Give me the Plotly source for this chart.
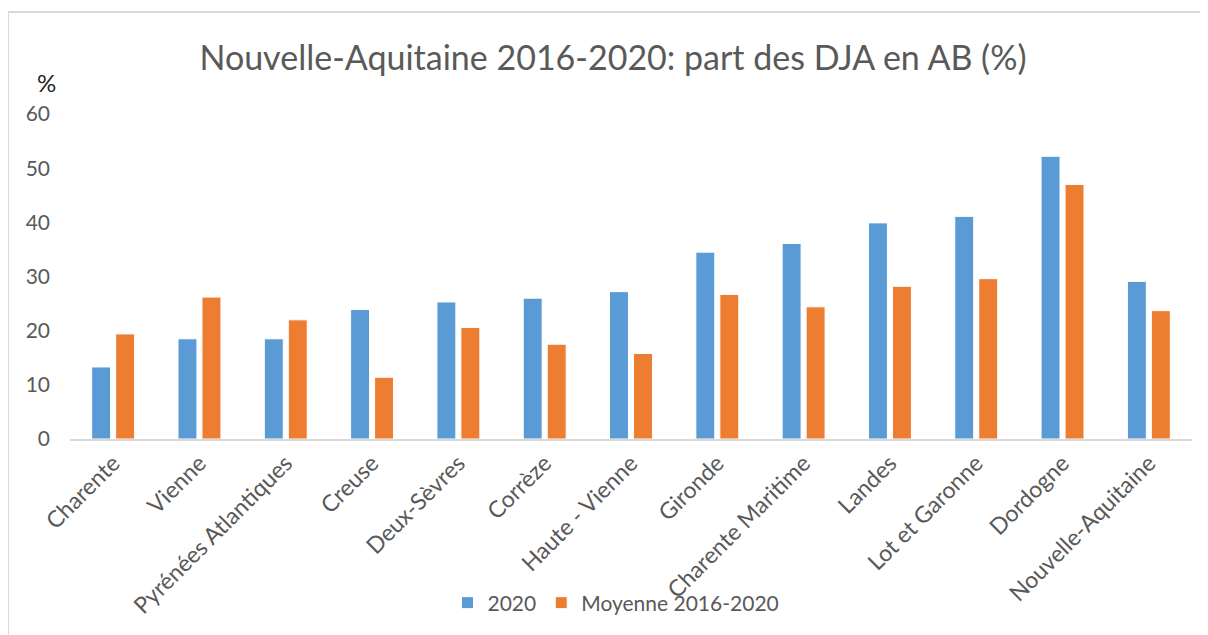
import plotly.graph_objects as go

categories = ["Charente", "Vienne", "Pyrénées Atlantiques", "Creuse", "Deux-Sèvres",
              "Corrèze", "Haute - Vienne", "Gironde", "Charente Maritime", "Landes",
              "Lot et Garonne", "Dordogne", "Nouvelle-Aquitaine"]
values_2020 = [13.3, 18.5, 18.5, 23.9, 25.3, 26.0, 27.2, 34.5, 36.1, 39.9, 41.1, 52.2, 29.1]
values_moy = [19.4, 26.2, 22.0, 11.4, 20.6, 17.5, 15.8, 26.7, 24.4, 28.2, 29.6, 47.0, 23.7]
y_ticks = [0, 10, 20, 30, 40, 50, 60]

FONT = "Lato"
GREY = "#595959"
OFF = 8  # page body margin offset
W, H = 1208, 635
L, R, T, B = 70 - OFF, 16 + OFF, 114 - OFF, 196 + OFF
pw, ph = W - L - R, H - T - B

def px(x):
    return (x - OFF - L) / pw

def py(y):
    return (H - B - (y - OFF)) / ph

fig = go.Figure()
fig.add_trace(go.Bar(x=categories, y=values_2020, name="2020",
                     marker=dict(color="#5B9BD5", line=dict(color="white", width=1))))
fig.add_trace(go.Bar(x=categories, y=values_moy, name="Moyenne 2016-2020",
                     marker=dict(color="#ED7D31", line=dict(color="white", width=1))))

fig.update_layout(
    width=W, height=H,
    margin=dict(l=L, r=R, t=T, b=B, autoexpand=False),
    paper_bgcolor="white", plot_bgcolor="white",
    font=dict(family=FONT, color=GREY, size=20),
    barmode="group", bargap=0.444, bargroupgap=0.21,
    title=dict(text="Nouvelle-Aquitaine 2016-2020: part des DJA en AB (%)",
               x=(613 - OFF) / W, xanchor="center", y=1 - (58 - OFF) / H, yanchor="middle",
               font=dict(family=FONT, size=34, color=GREY)),
    showlegend=True,
    legend=dict(orientation="h", x=px(616), xanchor="center", y=py(603), yanchor="middle",
                font=dict(family=FONT, size=21, color=GREY), itemwidth=30,
                bgcolor="rgba(0,0,0,0)", traceorder="normal"),
    xaxis=dict(tickangle=-45, showline=True, linecolor="#D9D9D9", linewidth=1.5,
               showgrid=False, ticks="", tickfont=dict(family=FONT, size=23, color=GREY)),
    yaxis=dict(range=[0, 60], tickvals=y_ticks, showgrid=False, zeroline=False,
               showline=False, ticks="", ticklabelstandoff=19,
               tickfont=dict(family=FONT, size=21, color=GREY)),
)

fig.add_annotation(text="%", xref="paper", yref="paper", x=px(46), y=py(82),
                   xanchor="center", yanchor="middle", showarrow=False,
                   font=dict(family=FONT, size=24, color="#262626"))

# chart border (top and left edges)
fig.add_shape(type="line", xref="paper", yref="paper", x0=px(8), x1=px(1230),
              y0=py(12), y1=py(12), line=dict(color="#D9D9D9", width=2))
fig.add_shape(type="line", xref="paper", yref="paper", x0=px(8), x1=px(8),
              y0=py(12), y1=py(660), line=dict(color="#D9D9D9", width=2))

fig.write_html("out.html")
